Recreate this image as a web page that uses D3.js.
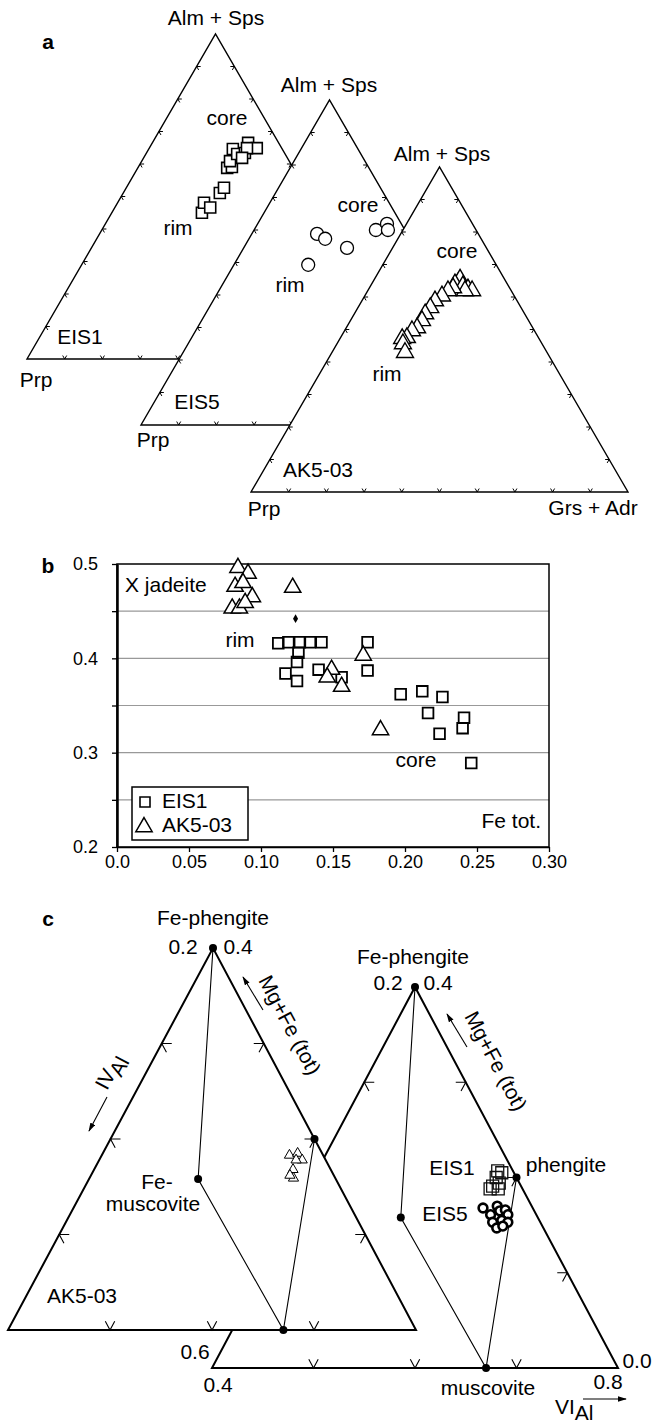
<!DOCTYPE html>
<html lang="en">
<head>
<meta charset="UTF-8" />
<title>Garnet, jadeite and phengite compositions</title>
<script src="https://d3js.org/d3.v7.min.js"></script>
<style>
    body { margin: 0; background: #fff; }
    svg text { font-family: "Liberation Sans", Arial, Helvetica, sans-serif; fill: #000; }
</style>
</head>
<body>
<svg id="fig" width="664" height="1425"></svg>
<script>
    // ---- a: garnet ternaries, each point = [Alm+Sps, Grs+Adr] fraction ----
    const garnetEIS1 = [[0.450,0.239],[0.481,0.229],[0.466,0.253],[0.511,0.256],[0.527,0.259],
        [0.588,0.237],[0.591,0.248],[0.609,0.234],[0.646,0.223],[0.631,0.242],[0.634,0.261],
        [0.665,0.254],[0.649,0.285],[0.649,0.259],[0.619,0.261]];
    const garnetEIS5 = [[0.588,0.173],[0.573,0.202],[0.545,0.274],[0.493,0.197],[0.600,0.323],
        [0.619,0.343],[0.600,0.355]];
    const garnetAK = [[0.643,0.228],[0.655,0.227],[0.640,0.221],[0.634,0.245],[0.625,0.263],
        [0.619,0.277],[0.619,0.258],[0.628,0.222],[0.619,0.213],[0.603,0.205],[0.588,0.194],
        [0.567,0.192],[0.548,0.188],[0.527,0.190],[0.505,0.188],[0.496,0.179],[0.475,0.176],
        [0.472,0.165],[0.456,0.175],[0.429,0.194]];
    const garnetTicks = [0.1,0.2,0.3,0.4,0.5,0.6,0.7,0.8,0.9];

    // ---- b: clinopyroxene, [Fe tot, X jadeite] ----
    const jdEIS1 = [[0.112,0.416],[0.119,0.417],[0.127,0.417],[0.134,0.417],[0.142,0.417],
        [0.126,0.406],[0.125,0.396],[0.117,0.384],[0.125,0.376],[0.140,0.388],[0.174,0.417],
        [0.174,0.387],[0.156,0.380],[0.197,0.362],[0.212,0.365],[0.226,0.359],[0.216,0.342],
        [0.224,0.320],[0.241,0.337],[0.240,0.326],[0.246,0.289]];
    const jdAK = [[0.084,0.496],[0.091,0.490],[0.082,0.476],[0.0875,0.480],[0.094,0.465],
        [0.080,0.453],[0.085,0.453],[0.089,0.459],[0.122,0.475],[0.171,0.403],[0.149,0.388],
        [0.146,0.380],[0.156,0.370],[0.183,0.324]];
    const jdMean = [[0.124,0.442]];
    const bXTicks = [0, 0.05, 0.10, 0.15, 0.20, 0.25, 0.30];
    const bYTicks = [0.20, 0.25, 0.30, 0.35, 0.40, 0.45, 0.50];
    const bGrid = [0.25, 0.30, 0.35, 0.40, 0.45];

    // ---- c: white mica, [Mg+Fe(tot), VI Al] ----
    const refNames = ["Fe-phengite", "phengite", "Fe-muscovite", "muscovite"];
    const refMgFe = [0.40, 0.20, 0.158, 0.0];
    const refVIAl = [0.40, 0.60, 0.507, 0.670];
    const phAK = [[0.183,0.584],[0.185,0.591],[0.178,0.599],[0.168,0.595],[0.159,0.600],
        [0.162,0.595],[0.178,0.593]];
    const phEIS1 = [[0.207,0.578],[0.205,0.583],[0.200,0.580],[0.191,0.581],[0.188,0.580],
        [0.188,0.588],[0.194,0.586]];
    const phEIS5 = [[0.168,0.583],[0.161,0.594],[0.170,0.596],[0.165,0.601],[0.166,0.606],
        [0.161,0.611],[0.153,0.600],[0.155,0.608],[0.153,0.615],[0.147,0.607],[0.149,0.612]];
    const phTicks = [0.25, 0.5, 0.75];

    const svg = d3.select("#fig");

    function txt(g, s, x, y, opt = {}) {
        return g.append("text")
            .attr("x", x).attr("y", y)
            .attr("text-anchor", opt.anchor || "middle")
            .attr("font-size", opt.size || 21)
            .attr("font-weight", opt.bold ? "bold" : null)
            .text(s);
    }

    // V-shaped ternary ticks: arms run parallel to the other two edges
    function edgeTicks(g, A, B, C, fracs, len, sw) {
        const unit = (P, Q) => {
            const dx = Q[0] - P[0], dy = Q[1] - P[1], m = Math.hypot(dx, dy);
            return [dx / m, dy / m];
        };
        const d1 = unit(A, C), d2 = unit(B, C);
        fracs.forEach(t => {
            const P = [A[0] + (B[0] - A[0]) * t, A[1] + (B[1] - A[1]) * t];
            g.append("path")
                .attr("d", d3.line()([[P[0] + d1[0] * len, P[1] + d1[1] * len], P,
                    [P[0] + d2[0] * len, P[1] + d2[1] * len]]))
                .attr("fill", "none").attr("stroke", "#000").attr("stroke-width", sw);
        });
    }

    // --- a ---
    const gA = svg.append("g");
    txt(gA, "a", 48, 49, { bold: true });
    const side = 377, hgt = 325;
    const ternA = [
        { bl: [27, 359], data: garnetEIS1, sym: d3.symbolSquare, size: 121, sw: 1.6,
          labels: [["Alm + Sps", 216, 25], ["core", 227, 125], ["rim", 178, 235], ["EIS1", 80, 344], ["Prp", 36, 387]] },
        { bl: [141, 425], data: garnetEIS5, sym: d3.symbolCircle, size: 133, sw: 1.3,
          labels: [["Alm + Sps", 329, 92], ["core", 358, 212], ["rim", 290, 292], ["EIS5", 197, 409], ["Prp", 153, 447]] },
        { bl: [251, 492], data: garnetAK, sym: d3.symbolTriangle, size: 125, sw: 1.4,
          labels: [["Alm + Sps", 442, 161], ["core", 457, 258], ["rim", 387, 381], ["AK5-03", 318, 477],
                   ["Prp", 264, 516], ["Grs + Adr", 593, 515]] }
    ];
    ternA.forEach(t => {
        const g = gA.append("g");
        const xs = d3.scaleLinear().domain([0, 1]).range([0, side]);
        const ys = d3.scaleLinear().domain([0, 1]).range([t.bl[1], t.bl[1] - hgt]);
        const pos = (alm, grs) => [t.bl[0] + xs(grs) + xs(alm) / 2, ys(alm)];
        const L = pos(0, 0), R = pos(0, 1), T = pos(1, 0);
        g.append("path").attr("d", d3.line()([L, R, T]) + "Z")
            .attr("fill", "#fff").attr("stroke", "#000").attr("stroke-width", 1.4);
        edgeTicks(g, L, R, T, garnetTicks, 4, 1);
        edgeTicks(g, L, T, R, garnetTicks, 4, 1);
        edgeTicks(g, R, T, L, garnetTicks, 4, 1);
        g.selectAll("path.pt").data(t.data).join("path").attr("class", "pt")
            .attr("transform", d => `translate(${pos(d[0], d[1])})`)
            .attr("d", d3.symbol(t.sym, t.size))
            .attr("fill", "#fff").attr("stroke", "#000").attr("stroke-width", t.sw);
        t.labels.forEach(l => txt(g, l[0], l[1], l[2]));
    });

    // --- b ---
    const gB = svg.append("g");
    const bx = d3.scaleLinear().domain([0, 0.3]).range([117, 549]);
    const by = d3.scaleLinear().domain([0.2, 0.5]).range([847, 564]);
    txt(gB, "b", 48, 573, { bold: true });
    gB.selectAll("line.grid").data(bGrid).join("line").attr("class", "grid")
        .attr("x1", bx(0)).attr("x2", bx(0.3))
        .attr("y1", d => by(d)).attr("y2", d => by(d))
        .attr("stroke", "#999").attr("stroke-width", 1.2);
    gB.append("rect").attr("x", bx(0)).attr("y", by(0.5))
        .attr("width", bx(0.3) - bx(0)).attr("height", by(0.2) - by(0.5))
        .attr("fill", "none").attr("stroke", "#000").attr("stroke-width", 1.5);

    const yAx = gB.append("g").attr("transform", `translate(${bx(0)},0)`)
        .call(d3.axisLeft(by).tickValues(bYTicks).tickSize(5).tickPadding(14).tickSizeOuter(0)
            .tickFormat(d => Math.abs(d * 10 - Math.round(d * 10)) < 1e-6 ? d.toFixed(1) : ""));
    const xAx = gB.append("g").attr("transform", `translate(0,${by(0.2)})`)
        .call(d3.axisBottom(bx).tickValues(bXTicks).tickSize(5).tickSizeOuter(0)
            .tickFormat(d => d === 0 ? "0.0" : d.toFixed(2)));
    [yAx, xAx].forEach(a => {
        a.attr("font-size", 18).attr("font-family", null);
        a.selectAll("line").attr("stroke", "#000").attr("stroke-width", 1.3);
        a.select(".domain").attr("stroke", "#000").attr("stroke-width", 2.5);
    });
    xAx.select(".domain").attr("stroke-width", 1.5);

    gB.selectAll("path.sq").data(jdEIS1).join("path").attr("class", "sq")
        .attr("transform", d => `translate(${bx(d[0])},${by(d[1])})`)
        .attr("d", d3.symbol(d3.symbolSquare, 115))
        .attr("fill", "none").attr("stroke", "#000").attr("stroke-width", 1.8);
    gB.selectAll("path.tr").data(jdAK).join("path").attr("class", "tr")
        .attr("transform", d => `translate(${bx(d[0])},${by(d[1])})`)
        .attr("d", d3.symbol(d3.symbolTriangle, 115))
        .attr("fill", "#fff").attr("stroke", "#000").attr("stroke-width", 1.5);
    gB.selectAll("path.mn").data(jdMean).join("path").attr("class", "mn")
        .attr("transform", d => `translate(${bx(d[0])},${by(d[1])})`)
        .attr("d", d3.symbol(d3.symbolDiamond, 22)).attr("fill", "#000");

    txt(gB, "X jadeite", 125, 592, { anchor: "start" });
    txt(gB, "rim", 240, 647);
    txt(gB, "core", 416, 767);
    txt(gB, "Fe tot.", 541, 828, { anchor: "end" });

    const leg = gB.append("g");
    leg.append("rect").attr("x", 132).attr("y", 787).attr("width", 116).attr("height", 53)
        .attr("fill", "#fff").attr("stroke", "#000").attr("stroke-width", 1.5);
    leg.append("path").attr("transform", "translate(145,802)")
        .attr("d", d3.symbol(d3.symbolSquare, 100)).attr("fill", "none").attr("stroke", "#000").attr("stroke-width", 1.6);
    leg.append("path").attr("transform", "translate(144,827)")
        .attr("d", d3.symbol(d3.symbolTriangle, 115)).attr("fill", "none").attr("stroke", "#000").attr("stroke-width", 1.5);
    txt(leg, "EIS1", 162, 808, { anchor: "start" });
    txt(leg, "AK5-03", 162, 832, { anchor: "start" });

    // --- c ---
    const gC = svg.append("g");
    svg.append("defs").append("marker").attr("id", "arr")
        .attr("viewBox", "0 0 10 6").attr("refX", 9).attr("refY", 3)
        .attr("markerWidth", 9).attr("markerHeight", 6).attr("markerUnits", "userSpaceOnUse")
        .attr("orient", "auto")
        .append("path").attr("d", "M0,0L10,3L0,6Z").attr("fill", "#000");

    txt(gC, "c", 48, 926, { bold: true });
    const mgS = d3.scaleLinear().domain([0, 0.4]).range([0, 1]);
    const viS = d3.scaleLinear().domain([0.4, 0.8]).range([0, 1]);
    const phTri = [
        { apex: [415, 987], bl: [212, 1368], br: [618, 1368], data: [
            { pts: phEIS1, sym: d3.symbolSquare, size: 144, fill: "none", stroke: "#111", sw: 1.3 },
            { pts: phEIS5, sym: d3.symbolCircle, size: 60, fill: "#fff", stroke: "#000", sw: 2.6 }] },
        { apex: [213, 948], bl: [8, 1330], br: [416, 1330], data: [
            { pts: phAK, sym: d3.symbolTriangle, size: 45, fill: "#fff", stroke: "#000", sw: 1 }] }
    ];
    phTri.forEach(t => {
        const g = gC.append("g");
        const pos = (mg, vi) => {
            const a = mgS(mg), c = viS(vi), b = 1 - a - c;
            return [a * t.apex[0] + b * t.bl[0] + c * t.br[0], a * t.apex[1] + b * t.bl[1] + c * t.br[1]];
        };
        g.append("path").attr("d", d3.line()([t.bl, t.br, t.apex]) + "Z")
            .attr("fill", "#fff").attr("stroke", "#000").attr("stroke-width", 2);
        edgeTicks(g, t.bl, t.br, t.apex, phTicks, 10, 1.1);
        edgeTicks(g, t.bl, t.apex, t.br, phTicks, 10, 1.1);
        edgeTicks(g, t.br, t.apex, t.bl, phTicks, 10, 1.1);
        const ref = refNames.map((n, i) => pos(refMgFe[i], refVIAl[i]));
        // Fe-phengite -> Fe-muscovite -> muscovite -> phengite
        g.append("path").attr("d", d3.line()([ref[0], ref[2], ref[3], ref[1]]))
            .attr("fill", "none").attr("stroke", "#000").attr("stroke-width", 1.1);
        t.data.forEach(s => {
            g.selectAll(null).data(s.pts).join("path")
                .attr("transform", d => `translate(${pos(d[0], d[1])})`)
                .attr("d", d3.symbol(s.sym, s.size))
                .attr("fill", s.fill).attr("stroke", s.stroke).attr("stroke-width", s.sw);
        });
        g.selectAll("circle.ref").data(ref).join("circle").attr("class", "ref")
            .attr("cx", d => d[0]).attr("cy", d => d[1]).attr("r", 4).attr("fill", "#000");
    });

    // labels of panel c
    [["Fe-phengite", 213, 925], ["0.2", 183, 954], ["0.4", 238, 954],
     ["Fe-phengite", 413, 964], ["0.2", 388, 990], ["0.4", 438, 990],
     ["EIS1", 452, 1175], ["EIS5", 445, 1221], ["phengite", 566, 1172],
     ["Fe-", 157, 1189], ["muscovite", 153, 1211], ["AK5-03", 82, 1303],
     ["0.6", 195, 1359], ["0.4", 218, 1392], ["muscovite", 488, 1395],
     ["0.8", 608, 1389], ["0.0", 637, 1368]].forEach(l => txt(gC, l[0], l[1], l[2]));

    [[290, 1025], [496, 1061]].forEach(c => {
        gC.append("text").attr("transform", `translate(${c[0]},${c[1]}) rotate(62)`)
            .attr("text-anchor", "middle").attr("dy", "0.35em").attr("font-size", 21)
            .text("Mg+Fe (tot)");
    });
    const iv = gC.append("text").attr("transform", "translate(112,1073) rotate(-62)")
        .attr("text-anchor", "middle").attr("dy", "0.2em").attr("font-size", 21);
    iv.append("tspan").text("IV");
    iv.append("tspan").attr("dy", "0.3em").text("Al");
    const vi = gC.append("text").attr("x", 555).attr("y", 1414).attr("font-size", 21);
    vi.append("tspan").text("VI");
    vi.append("tspan").attr("dy", "0.28em").text("Al");

    [[[263, 1010], [243, 977]], [[467, 1047], [447, 1014]], [[107, 1097], [89, 1131]], [[583, 1399], [626, 1399]]]
        .forEach(a => gC.append("path").attr("d", d3.line()(a))
            .attr("stroke", "#000").attr("stroke-width", 1.1).attr("marker-end", "url(#arr)"));
</script>
</body>
</html>
